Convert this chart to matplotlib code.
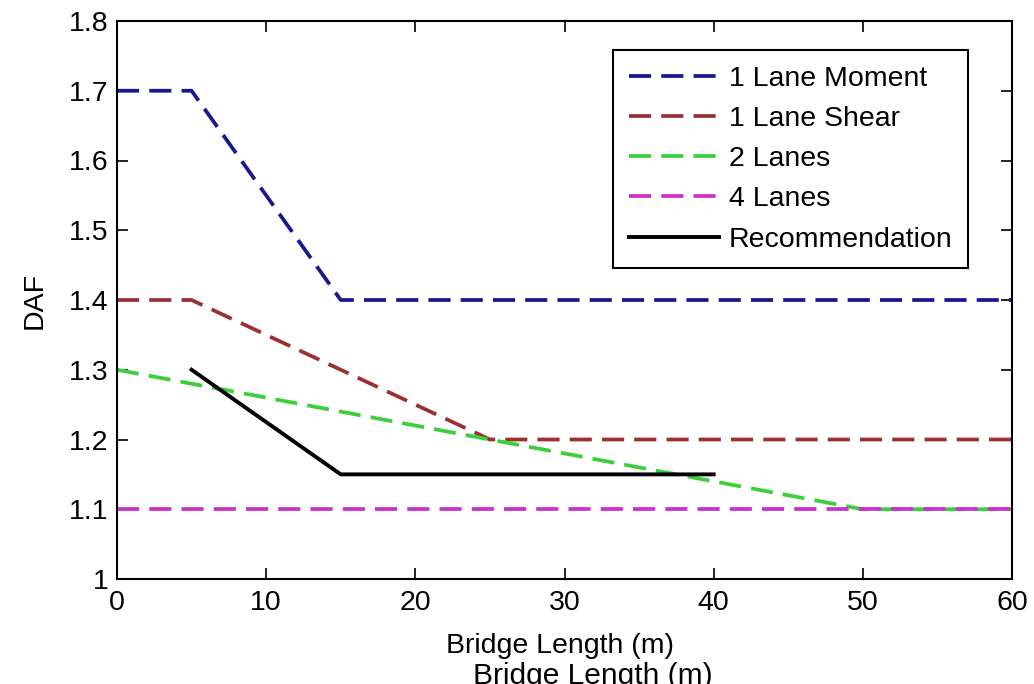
import numpy as np
import matplotlib
matplotlib.use("Agg")
import matplotlib.pyplot as plt

plt.rcParams['font.family'] = ['Liberation Sans', 'DejaVu Sans']

# DAF curves against span length
moment_1lane_x = [0, 5, 15, 60]
moment_1lane_y = [1.7, 1.7, 1.4, 1.4]

shear_1lane_x = [0, 5, 25, 60]
shear_1lane_y = [1.4, 1.4, 1.2, 1.2]

lanes2_x = [0, 50, 60]
lanes2_y = [1.3, 1.1, 1.1]

lanes4_x = [0, 60]
lanes4_y = [1.1, 1.1]

rec_x = [5, 15, 40]
rec_y = [1.3, 1.15, 1.15]

labels = ['1 Lane Moment', '1 Lane Shear', '2 Lanes', '4 Lanes', 'Recommendation']
xticks = [0, 10, 20, 30, 40, 50, 60]
yticks = [1, 1.1, 1.2, 1.3, 1.4, 1.5, 1.6, 1.7, 1.8]

fs = 20.5
lw = 2.7
dash = (0, (5.9, 2.7))

fig = plt.figure(figsize=(10.34, 6.84), dpi=100)
ax = fig.add_axes([117/1034, 1-579/684, 895/1034, 558/684])

ax.plot(moment_1lane_x, moment_1lane_y, color='#18188e', lw=lw, linestyle=dash, label=labels[0])
ax.plot(shear_1lane_x, shear_1lane_y, color='#9c3030', lw=lw, linestyle=dash, label=labels[1])
ax.plot(lanes2_x, lanes2_y, color='#3ccf3c', lw=lw, linestyle=dash, label=labels[2])
ax.plot(lanes4_x, lanes4_y, color='#cc30cc', lw=lw, linestyle=dash, label=labels[3])
ax.plot(rec_x, rec_y, color='black', lw=2.8, linestyle='-', label=labels[4])

ax.set_xlim(0, 60)
ax.set_ylim(1, 1.8)
ax.set_xticks(xticks)
ax.set_yticks(yticks)
ax.set_xticklabels([str(t) for t in xticks])
ax.set_yticklabels(['1'] + ['%.1f' % t for t in yticks[1:]])
ax.tick_params(direction='in', length=8, width=1.2, top=True, right=True,
               labelsize=fs, colors='black')
ax.tick_params(axis='x', pad=8)
ax.tick_params(axis='y', pad=6)
for s in ax.spines.values():
    s.set_linewidth(1.5)

ax.set_xlabel('Bridge Length (m)', fontsize=fs)
ax.set_ylabel('DAF', fontsize=fs)
ax.xaxis.set_label_coords(0.495, -0.096)
ax.yaxis.set_label_coords(-0.078, 0.5)

leg = ax.legend(loc='upper right', bbox_to_anchor=(0.951, 0.948), borderaxespad=0,
                fontsize=fs, fancybox=False, framealpha=1, edgecolor='black',
                handlelength=3.15, handletextpad=0.35, labelspacing=0.5,
                borderpad=0.55)
leg.get_frame().set_linewidth(1.5)

# second copy of the axis title, cut off by the lower edge
fig.text(593/1034, 1-662/684, 'Bridge Length (m)', fontsize=21.5, ha='center', va='top')

fig.savefig('out.png', dpi=100)
